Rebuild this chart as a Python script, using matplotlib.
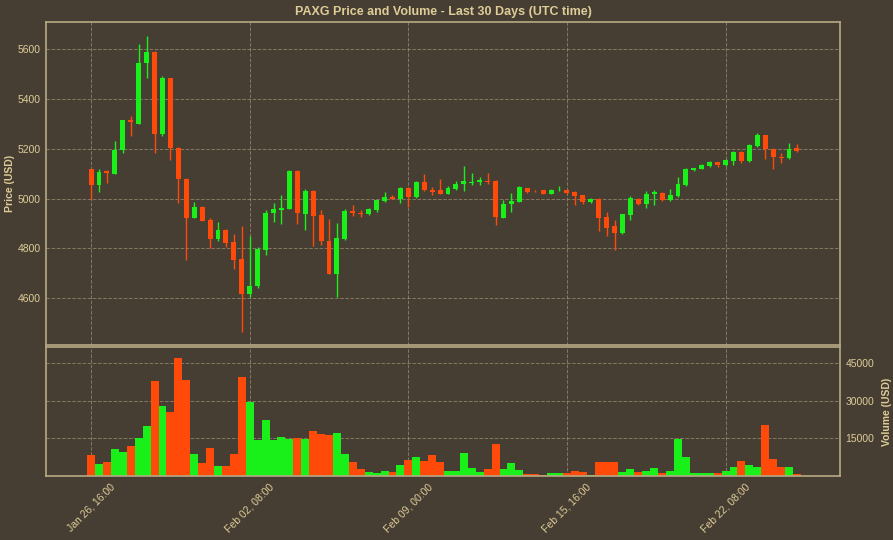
import numpy as np
import pandas as pd
import matplotlib
matplotlib.use('Agg')
import matplotlib.pyplot as plt
import matplotlib.dates as mdates

# 8-hour candles, last 30 days
start = '2026-01-26 16:00'
n_candles = 90

opens = [5118, 5055, 5109, 5099, 5193, 5317, 5301, 5543, 5590, 5261,
         5482, 5203, 5079, 4923, 4968, 4914, 4838, 4874, 4824, 4756,
         4615, 4648, 4793, 4940, 4956, 4960, 5110, 4937, 5031, 4932,
         4829, 4698, 4836, 4949, 4944, 4937, 4953, 4989, 5007, 5000,
         5044, 5007, 5067, 5036, 5036, 5020, 5040, 5058, 5063, 5067,
         5071, 5071, 4923, 4980, 4987, 5042, 5032, 5034, 5020, 5034,
         5036, 5027, 5013, 4985, 4999, 4926, 4889, 4863, 4933, 5000,
         4977, 5020, 5023, 4993, 5009, 5054, 5114, 5120, 5130, 5146,
         5134, 5152, 5188, 5150, 5211, 5255, 5197, 5168, 5161, 5201]
highs = [5120, 5118, 5115, 5230, 5317, 5333, 5619, 5653, 5594, 5492,
         5484, 5205, 5081, 4988, 4970, 4921, 4907, 4876, 4858, 4890,
         4850, 4807, 4954, 4983, 5013, 5114, 5114, 5040, 5034, 4953,
         4919, 4902, 4960, 4973, 4953, 4962, 4996, 5027, 5013, 5047,
         5047, 5071, 5097, 5047, 5077, 5050, 5071, 5130, 5103, 5085,
         5101, 5073, 4996, 5024, 5049, 5044, 5034, 5036, 5038, 5050,
         5040, 5030, 5016, 5004, 5001, 4946, 4913, 4937, 5009, 5004,
         5031, 5036, 5027, 5040, 5087, 5121, 5123, 5138, 5152, 5148,
         5157, 5192, 5191, 5219, 5262, 5256, 5201, 5181, 5224, 5219]
lows = [4997, 5028, 5062, 5097, 5183, 5252, 5299, 5485, 5183, 5252,
        5156, 4981, 4753, 4921, 4909, 4800, 4831, 4807, 4719, 4464,
        4605, 4639, 4773, 4906, 4899, 4958, 4899, 4872, 4808, 4812,
        4696, 4604, 4834, 4929, 4925, 4935, 4947, 4987, 4997, 4983,
        4966, 5004, 5031, 5013, 5018, 5017, 5036, 5031, 5054, 5054,
        5060, 4893, 4921, 4946, 4985, 5024, 5025, 5018, 5018, 5029,
        5020, 4973, 4980, 4982, 4870, 4848, 4792, 4859, 4913, 4973,
        4964, 4973, 4991, 4990, 5007, 5052, 5112, 5118, 5127, 5125,
        5132, 5134, 5143, 5146, 5206, 5157, 5117, 5141, 5157, 5188]
closes = [5055, 5105, 5102, 5193, 5314, 5306, 5545, 5590, 5261, 5482,
          5203, 5079, 4923, 4968, 4911, 4838, 4874, 4820, 4753, 4615,
          4650, 4796, 4942, 4960, 4964, 5110, 4940, 5031, 4929, 4829,
          4698, 4843, 4950, 4940, 4937, 4960, 4993, 5007, 5000, 5044,
          5007, 5067, 5034, 5027, 5020, 5044, 5060, 5071, 5067, 5074,
          5066, 4926, 4980, 4989, 5047, 5027, 5029, 5020, 5036, 5036,
          5023, 5012, 4987, 5000, 4923, 4883, 4863, 4937, 5004, 4977,
          5020, 5027, 4993, 5013, 5058, 5117, 5121, 5134, 5145, 5134,
          5154, 5188, 5150, 5215, 5255, 5197, 5165, 5161, 5197, 5192]
volumes = [8340, 4630, 5690, 10720, 9660, 11900, 15220, 19860, 38130, 27930,
           25550, 47000, 38400, 9000, 5300, 11390, 3970, 3970, 9000, 39450,
           29790, 14300, 22240, 14560, 15620, 14830, 15220, 14960, 17870, 16950,
           16290, 17340, 8740, 5430, 2780, 1460, 1060, 2120, 1460, 4370,
           6360, 7680, 5960, 8600, 5430, 1990, 1990, 9400, 3310, 1460,
           2650, 12700, 2650, 5030, 2380, 930, 800, 260, 1060, 1060,
           1320, 1990, 1460, 400, 5430, 5430, 5430, 1460, 2650, 1720,
           1990, 3040, 1060, 2120, 14700, 7680, 1060, 1060, 1320, 1320,
           2120, 3710, 5830, 4240, 3710, 20260, 6620, 3710, 3440, 800]

price_ticks = [4600, 4800, 5000, 5200, 5400, 5600]
volume_ticks = [15000, 30000, 45000]

bg = '#463e33'
fg = '#decc98'
spine_c = '#b8aa84'
up_c = '#19f019'
down_c = '#ff4a0a'

plt.rcParams['font.family'] = ['Liberation Sans', 'DejaVu Sans']

times = pd.date_range(start, periods=n_candles, freq='8h')
x = mdates.date2num(times.to_pydatetime())
o = np.array(opens); h = np.array(highs); l = np.array(lows); c = np.array(closes)
up = c >= o
cols = np.where(up, up_c, down_c)
step = 1 / 3

fig = plt.figure(figsize=(8.93, 5.4), dpi=100, facecolor=bg)
ax = fig.add_axes([0.0515, 0.361, 0.889, 0.598], facecolor=bg)
axv = fig.add_axes([0.0515, 0.1185, 0.889, 0.2385], facecolor=bg, sharex=ax)

# candles
ax.vlines(x, l, h, colors=cols, linewidth=1, zorder=2)
body_lo = np.minimum(o, c)
body_h = np.maximum(np.abs(c - o), 2)
ax.bar(x, body_h, bottom=body_lo, width=step * 0.62, color=cols, zorder=3)

# volume
axv.bar(x, volumes, width=step, color=cols, zorder=2)

t0 = x[0]
xt = [t0 + k * 160 / 24 for k in range(5)]
ax.set_xlim(t0 - 45.5 / 24, t0 + 755.3 / 24)
ax.set_xticks(xt)
ax.set_ylim(4412, 5708)
ax.set_yticks(price_ticks)
axv.set_ylim(0, 51500)
axv.set_yticks(volume_ticks)
axv.xaxis.set_major_formatter(mdates.DateFormatter('%b %d, %H:%M'))
axv.yaxis.tick_right()
axv.yaxis.set_label_position('right')

plt.setp(ax.get_xticklabels(), visible=False)
for lab in axv.get_xticklabels():
    lab.set_rotation(45)
    lab.set_ha('center')

for a in (ax, axv):
    a.grid(True, linestyle='--', color=spine_c, alpha=0.55, linewidth=0.7)
    a.set_axisbelow(True)
    for s in a.spines.values():
        s.set_color(spine_c)
        s.set_linewidth(1.2)
    a.tick_params(colors=fg, labelsize=7.5, length=0, pad=4)

ax.set_ylabel('Price (USD)', color=fg, fontsize=7.5, fontweight='bold')
ax.yaxis.set_label_coords(-0.039, 0.5)
axv.set_ylabel('Volume (USD)', color=fg, fontsize=7.5, fontweight='bold')
axv.yaxis.set_label_coords(1.053, 0.5)
fig.text(0.497, 0.978, 'PAXG Price and Volume - Last 30 Days (UTC time)',
         ha='center', va='center', color=fg, fontsize=9, fontweight='bold')

fig.savefig('out.png', dpi=100, facecolor=bg)
